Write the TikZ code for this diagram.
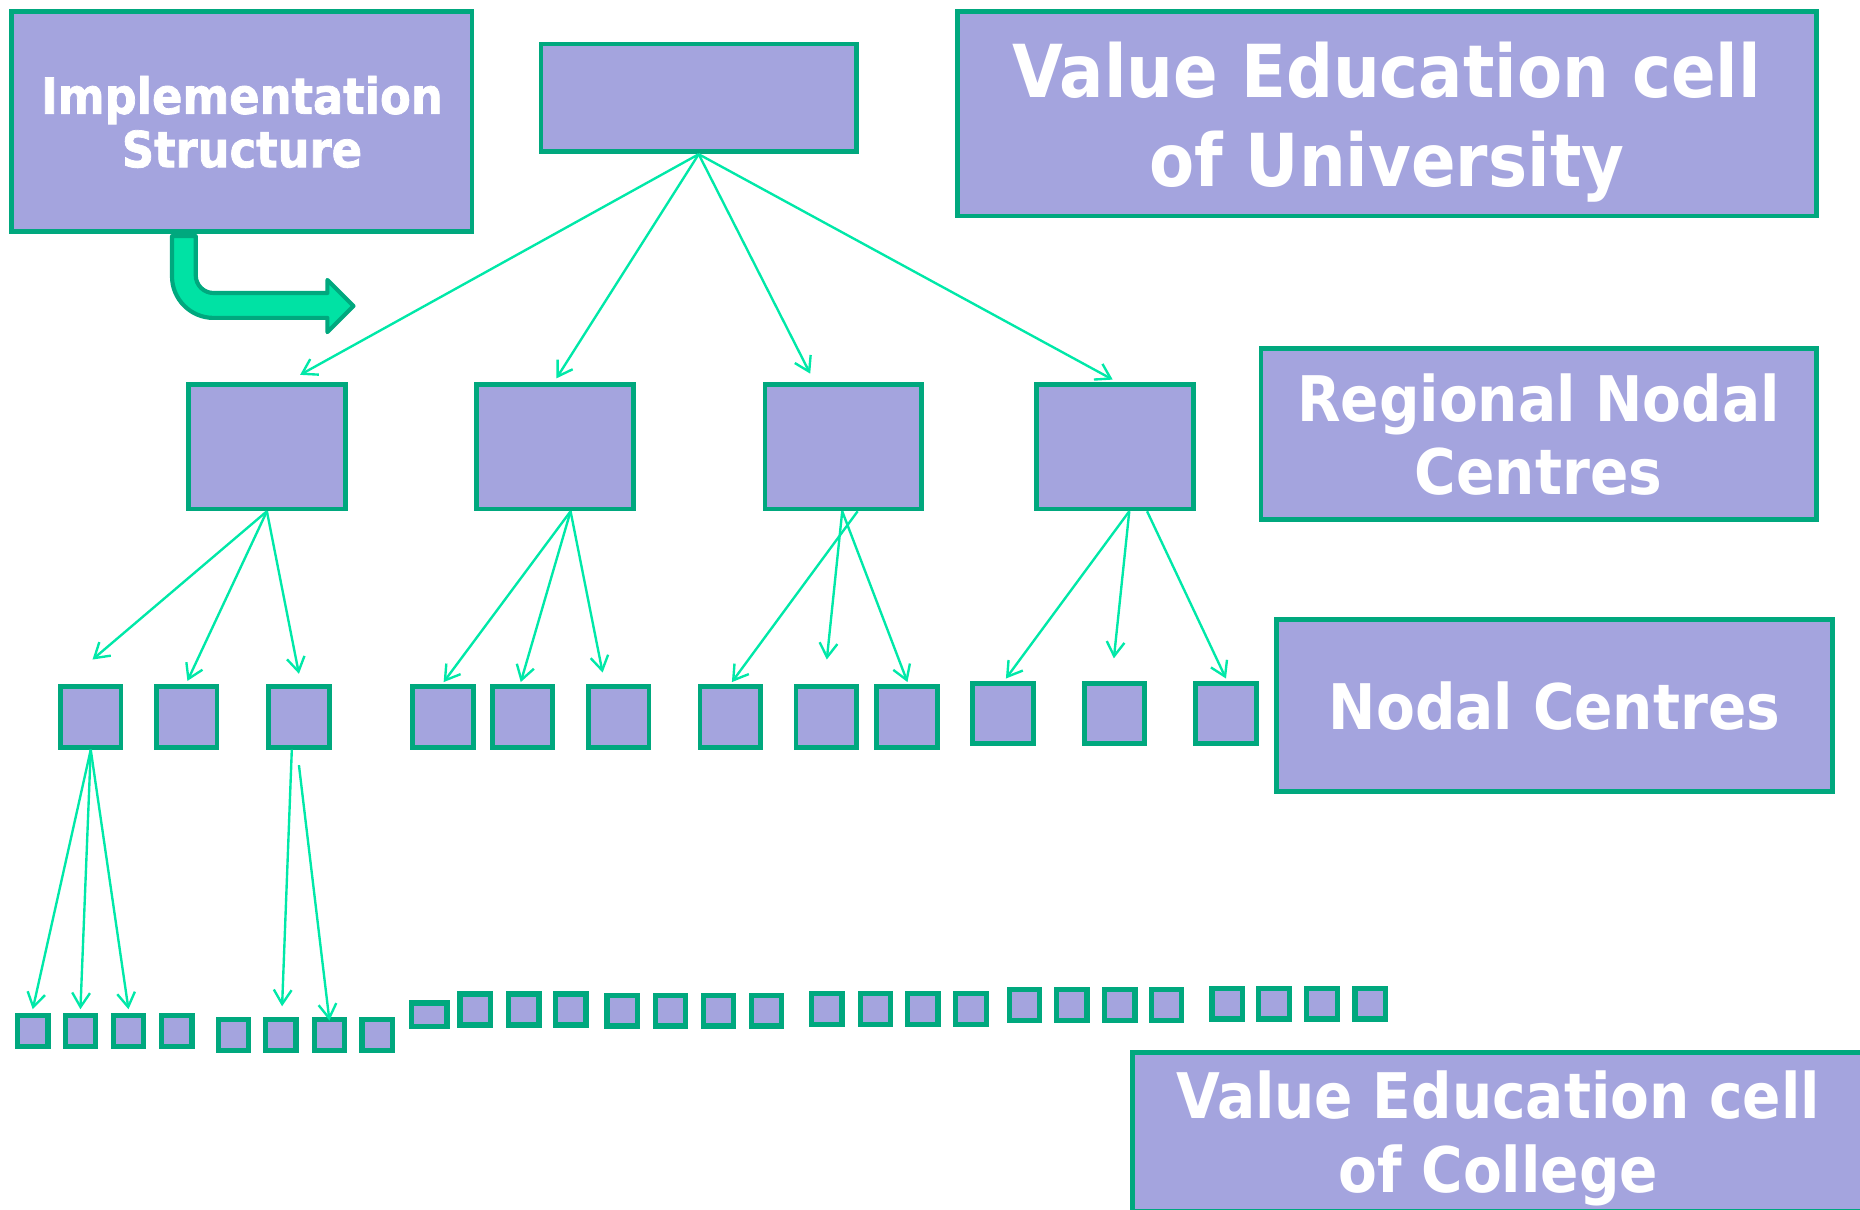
\documentclass[tikz,border=0pt]{standalone}
\usepackage{fontspec}
\setmainfont{DejaVu Sans}[FakeStretch=0.9]
\newfontfamily\heavyfont{DejaVu Sans Bold}[FakeStretch=0.9, FakeBold=1.5]
\usepackage{tikz}
\usetikzlibrary{arrows.meta}
\usetikzlibrary{positioning,calc}
\definecolor{boxfill}{RGB}{164,164,222}
\definecolor{boxline}{RGB}{0,168,126}
\definecolor{linkline}{RGB}{0,232,168}
\definecolor{bendfill}{RGB}{0,226,164}
\tikzset{
    boxunit/.style={
        draw=boxline,
        fill=boxfill,
        rectangle,
        line width=4pt,
        inner sep=0pt
    },
    labelbox/.style={
        boxunit,
        text=white,
        align=center,
        text depth=0pt
    },
    collegebox/.style={
        boxunit,
        line width=4.4pt,
        minimum width=25.6pt,
        minimum height=26pt
    },
    linkarrow/.style={
        draw=linkline,
        line width=2pt,
        -{Straight Barb[length=12pt, width=15pt]}
    }
}

\begin{document}
\begin{tikzpicture}[x=1pt, y=-1pt]
    \useasboundingbox (0,0) rectangle (1568,1020);
    \clip (0,0) rectangle (1568,1020);

    % bent arrow under the title box
    \draw[draw=boxline, fill=bendfill, line width=3.5pt, line join=round]
        (165,199) -- (165,232) .. controls (165,240.3) and (171.7,247) .. (180,247)
        -- (276,247) -- (276,236) -- (298,258) -- (276,280) -- (276,268) -- (180,268)
        .. controls (160.7,268) and (145,252.3) .. (145,233) -- (145,199) -- cycle;

    \node[labelbox, minimum width=388pt, minimum height=185pt, font=\heavyfont\fontsize{42}{45}\selectfont] (impl) at (204,102.5) {Implementation\\Structure};
    \node[boxunit, minimum width=266pt, minimum height=91pt] (top) at (589,82.5) {};
    \node[labelbox, minimum width=724pt, minimum height=172pt, font=\bfseries\fontsize{61.6}{75}\selectfont] (uni) at (1169,96) {Value Education cell\\of University};
    \node[labelbox, minimum width=468pt, minimum height=144pt, font=\bfseries\fontsize{53}{62}\selectfont] (rnc) at (1297,366) {Regional Nodal\\Centres};
    \node[labelbox, minimum width=469pt, minimum height=145pt, font=\bfseries\fontsize{53}{62}\selectfont] (nc) at (1310.5,594.5) {Nodal Centres};
    \node[labelbox, minimum width=616pt, minimum height=134pt, font=\bfseries\fontsize{53}{62}\selectfont] (vec) at (1263,954) {Value Education cell\\of College};

    % regional nodal centres
    \node[boxunit, minimum width=132pt, minimum height=105pt] (r1) at (225,376.5) {};
    \node[boxunit, minimum width=132pt, minimum height=105pt] (r2) at (468,376.5) {};
    \node[boxunit, minimum width=132pt, minimum height=105pt] (r3) at (711,376.5) {};
    \node[boxunit, minimum width=132pt, minimum height=105pt] (r4) at (940,376.5) {};

    % nodal centres
    \node[boxunit, minimum size=51pt] (n1) at (76.5,604.5) {};
    \node[boxunit, minimum size=51pt] (n2) at (157.5,604.5) {};
    \node[boxunit, minimum size=51pt] (n3) at (252,604.5) {};
    \node[boxunit, minimum size=51pt] (n4) at (373.5,604.5) {};
    \node[boxunit, minimum size=51pt] (n5) at (440.5,604.5) {};
    \node[boxunit, minimum size=51pt] (n6) at (521.5,604.5) {};
    \node[boxunit, minimum size=51pt] (n7) at (615.5,604.5) {};
    \node[boxunit, minimum size=51pt] (n8) at (696.5,604.5) {};
    \node[boxunit, minimum size=51pt] (n9) at (764.5,604.5) {};
    \node[boxunit, minimum size=51pt] (n10) at (845.5,601.5) {};
    \node[boxunit, minimum size=51pt] (n11) at (939.5,601.5) {};
    \node[boxunit, minimum size=51pt] (n12) at (1033.5,601.5) {};

    % value education cells of colleges
    \foreach \x/\y/\n in {27.6/869/1, 67.8/869/2, 108.3/869/3, 149/869/4,
        196.8/872.5/5, 236.8/872.5/6, 277.7/872.5/7, 318/872.5/8,
        400.5/851/10, 441.5/851/11, 481.2/851/12,
        524.5/852/13, 565.2/852/14, 605.7/852/15, 646/852/16,
        697/850.5/17, 738/850.5/18, 778/850.5/19, 818.5/850.5/20,
        863.5/847/21, 903.5/847/22, 944/847/23, 983.5/847/24,
        1034.5/846/25, 1074/846/26, 1114.5/846/27, 1155/846/28}
        \node[collegebox] (c\n) at (\x,\y) {};
    \node[collegebox, minimum width=29.6pt, minimum height=20pt] (c9) at (362,855.5) {};

    \draw[linkarrow] (top.south) -- ($(r1.north)+(28,-6)$);
    \draw[linkarrow] (top.south) -- ($(r2.north)+(1,-3)$);
    \draw[linkarrow] (top.south) -- ($(r3.north)+(-28,-7)$);
    \draw[linkarrow] (top.south) -- ($(r4.north)+(-2,-2)$);

    \draw[linkarrow] (r1.south) -- ($(n1.north)+(1.5,-21)$);
    \draw[linkarrow] (r1.south) -- ($(n2.north)+(0.5,-3)$);
    \draw[linkarrow] (r1.south) -- ($(n3.north)+(0,-9)$);
    \draw[linkarrow] ($(r2.south)+(13,0)$) -- ($(n4.north)+(0.5,-2)$);
    \draw[linkarrow] ($(r2.south)+(13,0)$) -- ($(n5.north)+(-1.5,-2)$);
    \draw[linkarrow] ($(r2.south)+(13,0)$) -- ($(n6.north)+(-13.5,-10)$);
    \draw[linkarrow] ($(r3.south)+(12,0)$) -- ($(n7.north)+(1.5,-2)$);
    \draw[linkarrow] ($(r3.south)+(-1,0)$) -- ($(n8.north)+(0.5,-21)$);
    \draw[linkarrow] ($(r3.south)+(-1,0)$) -- ($(n9.north)+(0.5,-2)$);
    \draw[linkarrow] ($(r4.south)+(12,0)$) -- ($(n10.north)+(2.5,-2)$);
    \draw[linkarrow] ($(r4.south)+(12,0)$) -- ($(n11.north)+(-0.5,-19)$);
    \draw[linkarrow] ($(r4.south)+(27,0)$) -- ($(n12.north)+(0,-2)$);

    \draw[linkarrow] (n1.south) -- ($(c1.north)+(0,-3)$);
    \draw[linkarrow] (n1.south) -- ($(c2.north)+(0,-3)$);
    \draw[linkarrow] (n1.south) -- ($(c3.north)+(0,-3)$);
    \draw[linkarrow] ($(n3.south)+(-6,0)$) -- ($(c6.north)+(1,-9)$);
    \draw[linkarrow] ($(n3.south)+(0,13)$) -- ($(c7.north)+(0,3)$);
\end{tikzpicture}
\end{document}
